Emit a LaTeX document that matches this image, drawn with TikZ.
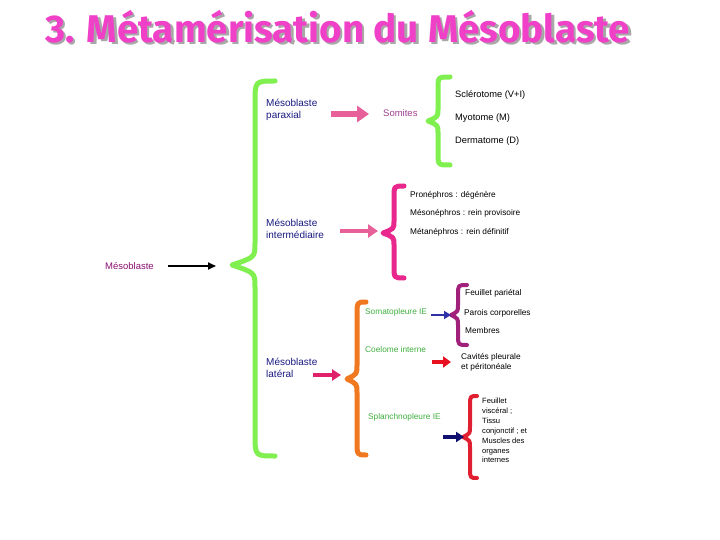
\documentclass[tikz,border=0pt]{standalone}
\usepackage{fontspec}
\usepackage{graphicx}
\setmainfont{Liberation Sans}
\newfontfamily\titlefont{Fira Sans}
\usetikzlibrary{arrows.meta}
\definecolor{bgreen}{HTML}{80F050}
\definecolor{bpink}{HTML}{E8288C}
\definecolor{bpurple}{HTML}{A0207A}
\definecolor{borange}{HTML}{F07820}
\definecolor{bred}{HTML}{E02030}
\definecolor{tnavy}{HTML}{1A1A80}
\definecolor{tgreen}{HTML}{40B040}
\definecolor{tsomite}{HTML}{A04090}
\definecolor{tmeso}{HTML}{8A1070}
\definecolor{titlemag}{HTML}{F040C8}
\definecolor{titleshad}{HTML}{A8A8A8}
\definecolor{apink}{HTML}{E8609A}
\definecolor{apink2}{HTML}{E0206A}
\definecolor{ablue}{HTML}{3030A8}
\definecolor{ared}{HTML}{E81020}
\definecolor{anavy}{HTML}{101070}
% #1 colour, #2 width, #3 x0, #4 tip x, #5 ytop, #6 ymid, #7 ybot, #8 end x, #9 r
\newcommand\mycurlybrace[9]{%
  \draw[#1, line width=#2, line cap=round, line join=round]
    (#8,#5) .. controls (#3,#5) .. (#3,#5+#9) -- (#3,#6-#9)
    .. controls (#3,#6-0.35*#9) .. (#4,#6)
    .. controls (#3,#6+0.35*#9) .. (#3,#6+#9) -- (#3,#7-#9)
    .. controls (#3,#7) .. (#8,#7);}
\newcommand\mytitletext{3. Métamérisation du Mésoblaste}
\tikzset{
  lab/.style={anchor=west, inner sep=0pt, font=\fontsize{8.3}{10}\selectfont},
  big/.style={anchor=west, inner sep=0pt, text=tnavy, align=left, font=\fontsize{10}{12}\selectfont},
  glab/.style={lab, text=tgreen},
}
\begin{document}
\begin{tikzpicture}[x=1pt,y=-1pt]
\useasboundingbox[fill=white] (0,0) rectangle (720,540);
% title with shadow
\node[anchor=west, inner sep=0pt] (title) at (45,28)
  {\resizebox{585pt}{!}{\titlefont\bfseries\fontsize{30}{32}\selectfont
   \rlap{\kern1.8pt\raisebox{-1.8pt}{\textcolor{titleshad}{\mytitletext}}}%
   \textcolor{titlemag}{\mytitletext}}};
% braces
\mycurlybrace{bgreen}{5pt}{255}{232}{81}{265}{456}{275}{22}
\mycurlybrace{bgreen}{5pt}{438}{428}{77}{121}{165}{450}{12}
\mycurlybrace{bpink}{5pt}{394}{383}{186}{233}{278}{404}{12}
\mycurlybrace{bpurple}{4pt}{458}{451}{285}{315}{345}{467}{10}
\mycurlybrace{borange}{5pt}{357}{347}{302}{379}{455}{366}{14}
\mycurlybrace{bred}{4pt}{470}{463}{396}{437}{478}{477}{10}
% left
\node[anchor=west, inner sep=0pt, text=tmeso, font=\fontsize{9.5}{11}\selectfont] (meso) at (105,266) {Mésoblaste};
\coordinate (a0s) at (168,266);
\coordinate (a0e) at (216,266);
\draw[black, line width=1.8pt, -{Triangle[length=8pt,width=7pt]}] (a0s) -- (a0e);
% paraxial
\node[big] (parax) at (266,110) {Mésoblaste\\paraxial};
\coordinate (a1s) at (331,114);
\coordinate (a1e) at (369,114);
\draw[apink, line width=5.5pt, -{Triangle[length=12pt,width=16pt]}] (a1s) -- (a1e);
\node[anchor=west, inner sep=0pt, text=tsomite, font=\fontsize{9.5}{11}\selectfont] (somites) at (383,113) {Somites};
\node[lab, font=\fontsize{9.3}{11}\selectfont] (sclero) at (455,95) {Sclérotome (V+I)};
\node[lab, font=\fontsize{9.3}{11}\selectfont] (myo) at (455,118) {Myotome (M)};
\node[lab, font=\fontsize{9.3}{11}\selectfont] (derm) at (455,141) {Dermatome (D)};
% intermediaire
\node[big] (inter) at (266,229) {Mésoblaste\\intermédiaire};
\coordinate (a2s) at (340,231);
\coordinate (a2e) at (378,231);
\draw[apink, line width=4.5pt, -{Triangle[length=10pt,width=13pt]}] (a2s) -- (a2e);
\node[lab] (pro) at (410,195) {Pronéphros : dégénère};
\node[lab] (meson) at (410,213) {Mésonéphros : rein provisoire};
\node[lab] (meta) at (410,232) {Métanéphros : rein définitif};
% lateral
\node[big] (lat) at (266,368) {Mésoblaste\\latéral};
\coordinate (a3s) at (313,375);
\coordinate (a3e) at (341,375);
\draw[apink2, line width=4pt, -{Triangle[length=9pt,width=11pt]}] (a3s) -- (a3e);
\node[glab] (soma) at (365,312) {Somatopleure IE};
\node[glab] (coel) at (365,350) {Coelome interne};
\node[glab] (splanch) at (368,417) {Splanchnopleure IE};
\coordinate (a4s) at (431,315);
\coordinate (a4e) at (451,315);
\draw[ablue, line width=2.5pt, -{Triangle[length=7pt,width=8pt]}] (a4s) -- (a4e);
\coordinate (a5s) at (432,362);
\coordinate (a5e) at (451,362);
\draw[ared, line width=4pt, -{Triangle[length=8pt,width=11pt]}] (a5s) -- (a5e);
\coordinate (a6s) at (443,437);
\coordinate (a6e) at (464,437);
\draw[anavy, line width=3.5pt, -{Triangle[length=8pt,width=10pt]}] (a6s) -- (a6e);
\node[lab] (fp) at (465,293) {Feuillet pariétal};
\node[lab] (pc) at (464,313) {Parois corporelles};
\node[lab] (mb) at (465,331) {Membres};
\node[lab, align=left] (cav) at (461,362.5) {Cavités pleurale\\et péritonéale};
\node[lab, align=left, font=\fontsize{7.6}{9.9}\selectfont] (fv) at (482,430.5)
  {Feuillet\\viscéral ;\\Tissu\\conjonctif ; et\\Muscles des\\organes\\internes};
\end{tikzpicture}
\end{document}
